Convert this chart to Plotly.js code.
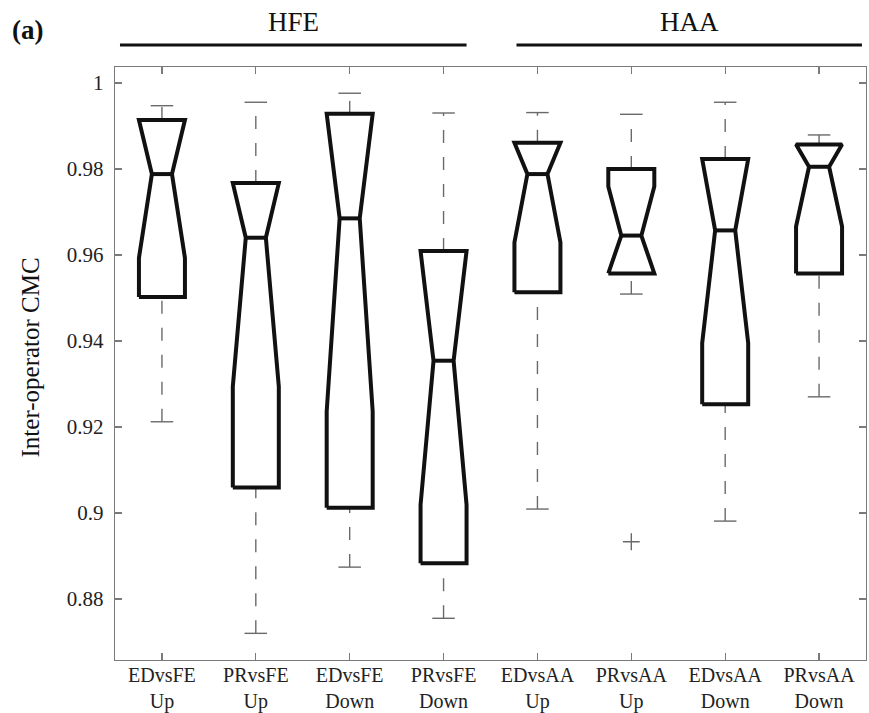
<!DOCTYPE html>
<html><head><meta charset="utf-8">
<script src="https://cdn.plot.ly/plotly-3.0.1.min.js"></script>
<style>html,body{margin:0;padding:0;background:#fff}</style>
</head><body><div id="chart" style="width:869px;height:713px"></div>
<script>
// ---- data ----
const categories = ['EDvsFE<br>Up','PRvsFE<br>Up','EDvsFE<br>Down','PRvsFE<br>Down',
                    'EDvsAA<br>Up','PRvsAA<br>Up','EDvsAA<br>Down','PRvsAA<br>Down'];
const lowerWhisker = [0.9212, 0.8720, 0.8874, 0.8755, 0.9009, 0.9509, 0.8981, 0.9270];
const q1           = [0.9502, 0.9059, 0.9012, 0.8883, 0.9513, 0.9557, 0.9253, 0.9557];
const notchLow     = [0.9593, 0.9294, 0.9236, 0.9019, 0.9629, 0.9557, 0.9395, 0.9666];
const median       = [0.9788, 0.9640, 0.9685, 0.9354, 0.9788, 0.9645, 0.9657, 0.9805];
const notchHigh    = [0.9914, 0.9767, 0.9928, 0.9609, 0.9861, 0.9759, 0.9823, 0.9857];
const q3           = [0.9914, 0.9767, 0.9928, 0.9609, 0.9861, 0.9800, 0.9823, 0.9857];
const upperWhisker = [0.9947, 0.9955, 0.9976, 0.9930, 0.9931, 0.9927, 0.9955, 0.9879];
const outlierCat   = [6];
const outlierVal   = [0.8933];
const yTickVals = [0.88, 0.90, 0.92, 0.94, 0.96, 0.98, 1.00];
const yTickText = ['0.88','0.9','0.92','0.94','0.96','0.98','1'];
const groupLabels = ['HFE','HAA'];
const yTitle = 'Inter-operator CMC';

// ---- styling ----
const BW = 0.245, NW = 0.107, CW = 0.12;
const FONT = 'Liberation Serif, Times New Roman, serif';

const bx=[], by=[], mx=[], my=[], wx=[], wy=[], cx=[], cy=[];
categories.forEach((c, i) => {
  const p = i + 1;
  bx.push(p-BW, p-BW, p-NW, p-BW, p-BW, p+BW, p+BW, p+NW, p+BW, p+BW, p-BW, null);
  by.push(q1[i], notchLow[i], median[i], notchHigh[i], q3[i], q3[i], notchHigh[i], median[i], notchLow[i], q1[i], q1[i], null);
  mx.push(p-NW, p+NW, null); my.push(median[i], median[i], null);
  wx.push(p, p, null, p, p, null);
  wy.push(lowerWhisker[i], q1[i], null, q3[i], upperWhisker[i], null);
  cx.push(p-CW, p+CW, null, p-CW, p+CW, null);
  cy.push(lowerWhisker[i], lowerWhisker[i], null, upperWhisker[i], upperWhisker[i], null);
});

const traces = [
  {x: wx, y: wy, mode: 'lines', line: {color: '#6a6a6a', width: 1.4, dash: '13px,14px'}, hoverinfo: 'skip', showlegend: false},
  {x: cx, y: cy, mode: 'lines', line: {color: '#6a6a6a', width: 1.4}, hoverinfo: 'skip', showlegend: false},
  {x: bx, y: by, mode: 'lines', line: {color: '#111', width: 4}, hoverinfo: 'skip', showlegend: false},
  {x: mx, y: my, mode: 'lines', line: {color: '#111', width: 4}, hoverinfo: 'skip', showlegend: false},
  {x: outlierCat, y: outlierVal, mode: 'markers',
   marker: {symbol: 'cross-thin', size: 12, line: {color: '#6a6a6a', width: 1.4}}, showlegend: false}
];

const axisCommon = {
  showline: true, linecolor: '#7a7a7a', linewidth: 1.2, mirror: 'ticks',
  ticks: 'inside', ticklen: 7, tickcolor: '#7a7a7a', tickwidth: 1.2,
  showgrid: false, zeroline: false
};

const layout = {
  width: 869, height: 713,
  margin: {l: 115, r: 3, t: 67, b: 53},
  paper_bgcolor: '#fff', plot_bgcolor: '#fff',
  xaxis: Object.assign({}, axisCommon, {
    range: [0.5, 8.5], tickvals: [1,2,3,4,5,6,7,8], ticktext: categories,
    ticklabelstandoff: -3,
    tickfont: {family: FONT, size: 20, color: '#222'}
  }),
  yaxis: Object.assign({}, axisCommon, {
    range: [0.8658, 1.0037], tickvals: yTickVals, ticktext: yTickText,
    ticklabelstandoff: 6,
    tickfont: {family: FONT, size: 21, color: '#222'}
  }),
  shapes: [
    {type: 'line', xref: 'x', yref: 'paper', x0: 0.553, x1: 4.245, y0: 1.037, y1: 1.037, line: {color: '#111', width: 3}},
    {type: 'line', xref: 'x', yref: 'paper', x0: 4.777, x1: 8.457, y0: 1.037, y1: 1.037, line: {color: '#111', width: 3}}
  ],
  annotations: [
    {text: yTitle, xref: 'paper', yref: 'paper', x: -0.112, y: 0.51, textangle: -90, showarrow: false,
     xanchor: 'center', yanchor: 'middle', font: {family: FONT, size: 25, color: '#111'}},
    {text: groupLabels[0], xref: 'x', yref: 'paper', x: 2.4, y: 1.076, showarrow: false, xanchor: 'center', yanchor: 'middle',
     font: {family: FONT, size: 27, color: '#111'}},
    {text: groupLabels[1], xref: 'x', yref: 'paper', x: 6.617, y: 1.076, showarrow: false, xanchor: 'center', yanchor: 'middle',
     font: {family: FONT, size: 27, color: '#111'}},
    {text: '<b>(a)</b>', xref: 'paper', yref: 'paper', x: -0.117, y: 1.062, showarrow: false, xanchor: 'center', yanchor: 'middle',
     font: {family: FONT, size: 27, color: '#111'}}
  ]
};

Plotly.newPlot('chart', traces, layout, {displayModeBar: false, staticPlot: true});
</script>
</body></html>
